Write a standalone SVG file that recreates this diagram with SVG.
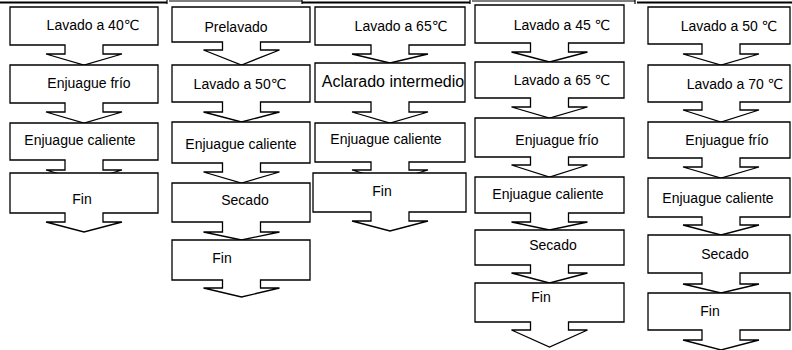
<svg xmlns="http://www.w3.org/2000/svg" width="792" height="350" viewBox="0 0 792 350">
<style>
.s{fill:#fff;stroke:#000;stroke-width:1.3;stroke-linejoin:miter}
.t{font-family:"Liberation Sans","DejaVu Sans",Arial,sans-serif;font-size:14px;fill:#000;text-anchor:middle}
.big{font-size:16px}
.b{stroke:#000;fill:none}
</style>
<rect width="792" height="350" fill="#fff"/>
<g id="border">
<path class="b" stroke-width="2.2" d="M0 2.5H167M302 2.5H470M637 2.5H792"/>
<path class="b" stroke-width="1.2" d="M169 1H302M472 1H635"/>
<path class="b" stroke-width="1.2" d="M167 0V4M302 0V4M470 0V4M635 0V4"/>
</g>
<g id="connectors"></g>
<g id="col1">
<g id="c1n1"><path class="s" d="M10 7H158V45H103V54H122L84 65L46 54H65V45H10Z"/><text class="t" x="93" y="30">Lavado a 40℃</text></g>
<g id="c1n2"><path class="s" d="M10 65H158V103H103V112H122L84 123L46 112H65V103H10Z"/><text class="t" x="89" y="88">Enjuague frío</text></g>
<g id="c1n3"><path class="s" d="M10 123H158V160H103V170H122L84 181L46 170H65V160H10Z"/><text class="t" x="80" y="145">Enjuague caliente</text></g>
<g id="c1n4"><path class="s" d="M10 173H158V213H103V222H122L84 232L46 222H65V213H10Z"/><text class="t" x="82" y="204">Fin</text></g>
</g>
<g id="col2">
<g id="c2n1"><path class="s" d="M172 7H310V42H260.5V50H279.5L241.5 65L203.5 50H222.5V42H172Z"/><text class="t" x="236" y="32">Prelavado</text></g>
<g id="c2n2"><path class="s" d="M172 65H310V102H260.5V112H279.5L241.5 122L203.5 112H222.5V102H172Z"/><text class="t" x="240" y="89">Lavado a 50℃</text></g>
<g id="c2n3"><path class="s" d="M172 122H310V163H260.5V172H279.5L241.5 183L203.5 172H222.5V163H172Z"/><text class="t" x="241" y="149">Enjuague caliente</text></g>
<g id="c2n4"><path class="s" d="M172 183H310V222H260.5V232H279.5L241.5 240L203.5 232H222.5V222H172Z"/><text class="t" x="245" y="205">Secado</text></g>
<g id="c2n5"><path class="s" d="M172 240H310V280H260.5V288H279.5L241.5 297L203.5 288H222.5V280H172Z"/><text class="t" x="222" y="263">Fin</text></g>
</g>
<g id="col3">
<g id="c3n1"><path class="s" d="M315 7H465V45H409V54H428L390 63L352 54H371V45H315Z"/><text class="t" x="401" y="31">Lavado a 65℃</text></g>
<g id="c3n2"><path class="s" d="M315 63H465V102H409V112H428L390 123L352 112H371V102H315Z"/><text class="t big" x="393" y="87">Aclarado intermedio</text></g>
<g id="c3n3"><path class="s" d="M315 123H465V162H409V170H428L390 181L352 170H371V162H315Z"/><text class="t" x="386" y="144">Enjuague caliente</text></g>
<g id="c3n4"><path class="s" d="M313 173H466V212H409V221H428L390 231L352 221H371V212H313Z"/><text class="t" x="382" y="196">Fin</text></g>
</g>
<g id="col4">
<g id="c4n1"><path class="s" d="M475 5H624V43H568.5V52H587.5L549.5 62L511.5 52H530.5V43H475Z"/><text class="t" x="562" y="30">Lavado a  45 ℃</text></g>
<g id="c4n2"><path class="s" d="M475 62H624V98H568.5V107H587.5L549.5 118L511.5 107H530.5V98H475Z"/><text class="t" x="562" y="85">Lavado a 65 ℃</text></g>
<g id="c4n3"><path class="s" d="M475 118H624V157H568.5V165H587.5L549.5 177L511.5 165H530.5V157H475Z"/><text class="t" x="557" y="145">Enjuague frío</text></g>
<g id="c4n4"><path class="s" d="M475 177H624V213H568.5V222H587.5L549.5 230L511.5 222H530.5V213H475Z"/><text class="t" x="548" y="199">Enjuague caliente</text></g>
<g id="c4n5"><path class="s" d="M475 230H624V265H568.5V273H587.5L549.5 283L511.5 273H530.5V265H475Z"/><text class="t" x="553" y="250">Secado</text></g>
<g id="c4n6"><path class="s" d="M475 283H624V322H568.5V330H587.5L549.5 347L511.5 330H530.5V322H475Z"/><text class="t" x="541" y="302">Fin</text></g>
</g>
<g id="col5">
<g id="c5n1"><path class="s" d="M648 7H790V44H740V54H759L721 65L683 54H702V44H648Z"/><text class="t" x="729" y="31">Lavado a  50 ℃</text></g>
<g id="c5n2"><path class="s" d="M648 65H790V102H740V110H759L721 122L683 110H702V102H648Z"/><text class="t" x="735" y="89">Lavado a  70 ℃</text></g>
<g id="c5n3"><path class="s" d="M648 122H790V158H740V167H759L721 178L683 167H702V158H648Z"/><text class="t" x="727" y="145">Enjuague frío</text></g>
<g id="c5n4"><path class="s" d="M648 178H790V217H740V225H759L721 235L683 225H702V217H648Z"/><text class="t" x="718" y="203">Enjuague caliente</text></g>
<g id="c5n5"><path class="s" d="M648 235H790V273H740V284H759L721 293L683 284H702V273H648Z"/><text class="t" x="725" y="259">Secado</text></g>
<g id="c5n6"><path class="s" d="M648 293H790V330H740V340H759L721 350L683 340H702V330H648Z"/><text class="t" x="710" y="316">Fin</text></g>
</g>
</svg>
